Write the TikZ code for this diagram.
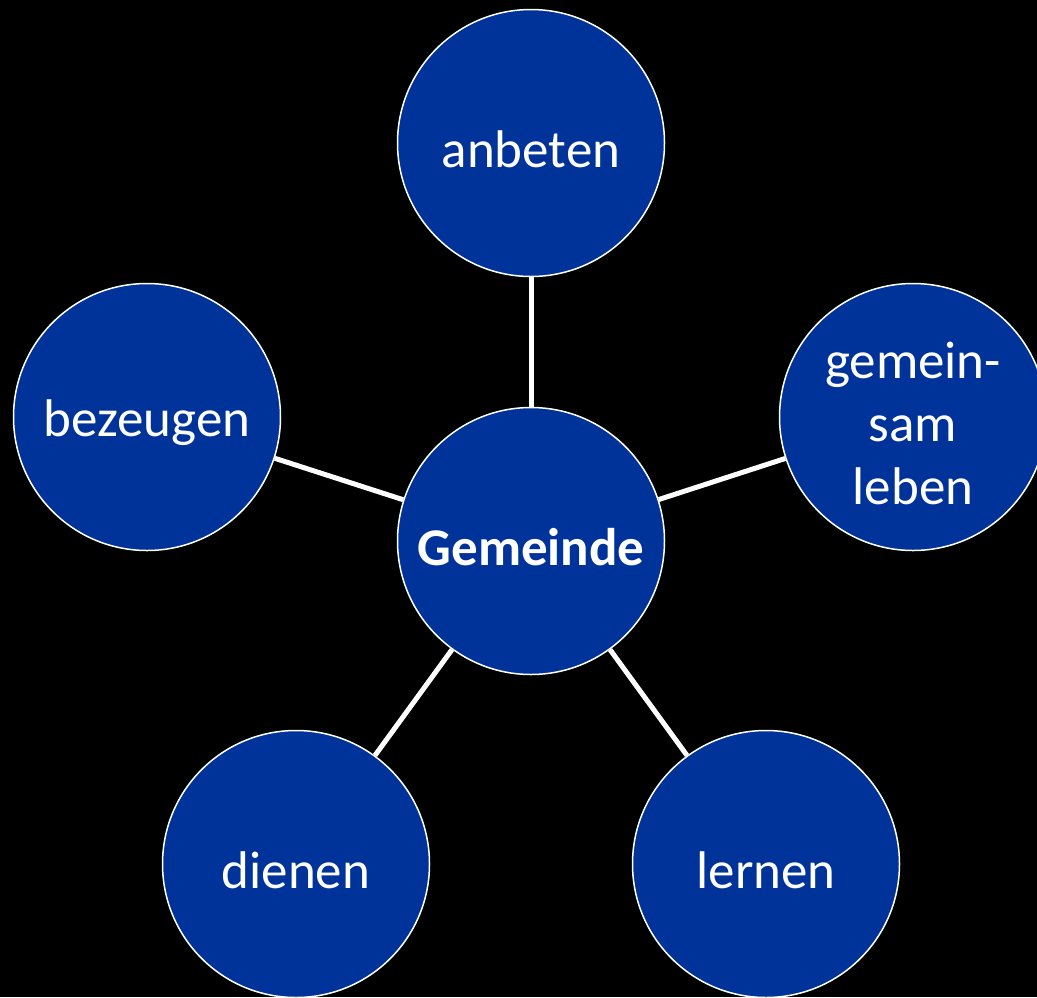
\documentclass[tikz,border=0pt]{standalone}
\usepackage{fontspec}
\setmainfont{Carlito}
\definecolor{circleblue}{HTML}{003399}
\begin{document}
\begin{tikzpicture}[x=1pt,y=-1pt,
  topic/.style={circle, draw=white, line width=1.5pt, fill=circleblue,
    minimum size=267pt, inner sep=0pt,
    label={[text=white, align=center, yshift=-6pt,
      font=\fontsize{53}{63}\selectfont#1]center:\topictext}},
  link/.style={draw=white, line width=5pt}]
  \fill[black] (0,0) rectangle (1037,997);
  \useasboundingbox (0,0) rectangle (1037,997);
  \def\topictext{Gemeinde}
  \node[topic=\bfseries] (center) at (531,541) {};
  \def\topictext{anbeten}
  \node[topic] (worship) at (531,143) {};
  \def\topictext{gemein-\\sam\\leben}
  \node[topic] (fellow) at (913,417) {};
  \def\topictext{lernen}
  \node[topic] (learn) at (766,864) {};
  \def\topictext{dienen}
  \node[topic] (serve) at (296,864) {};
  \def\topictext{bezeugen}
  \node[topic] (witness) at (147,417) {};
  \foreach \n in {worship,fellow,learn,serve,witness}
    \draw[link] (center) -- (\n);
\end{tikzpicture}
\end{document}
